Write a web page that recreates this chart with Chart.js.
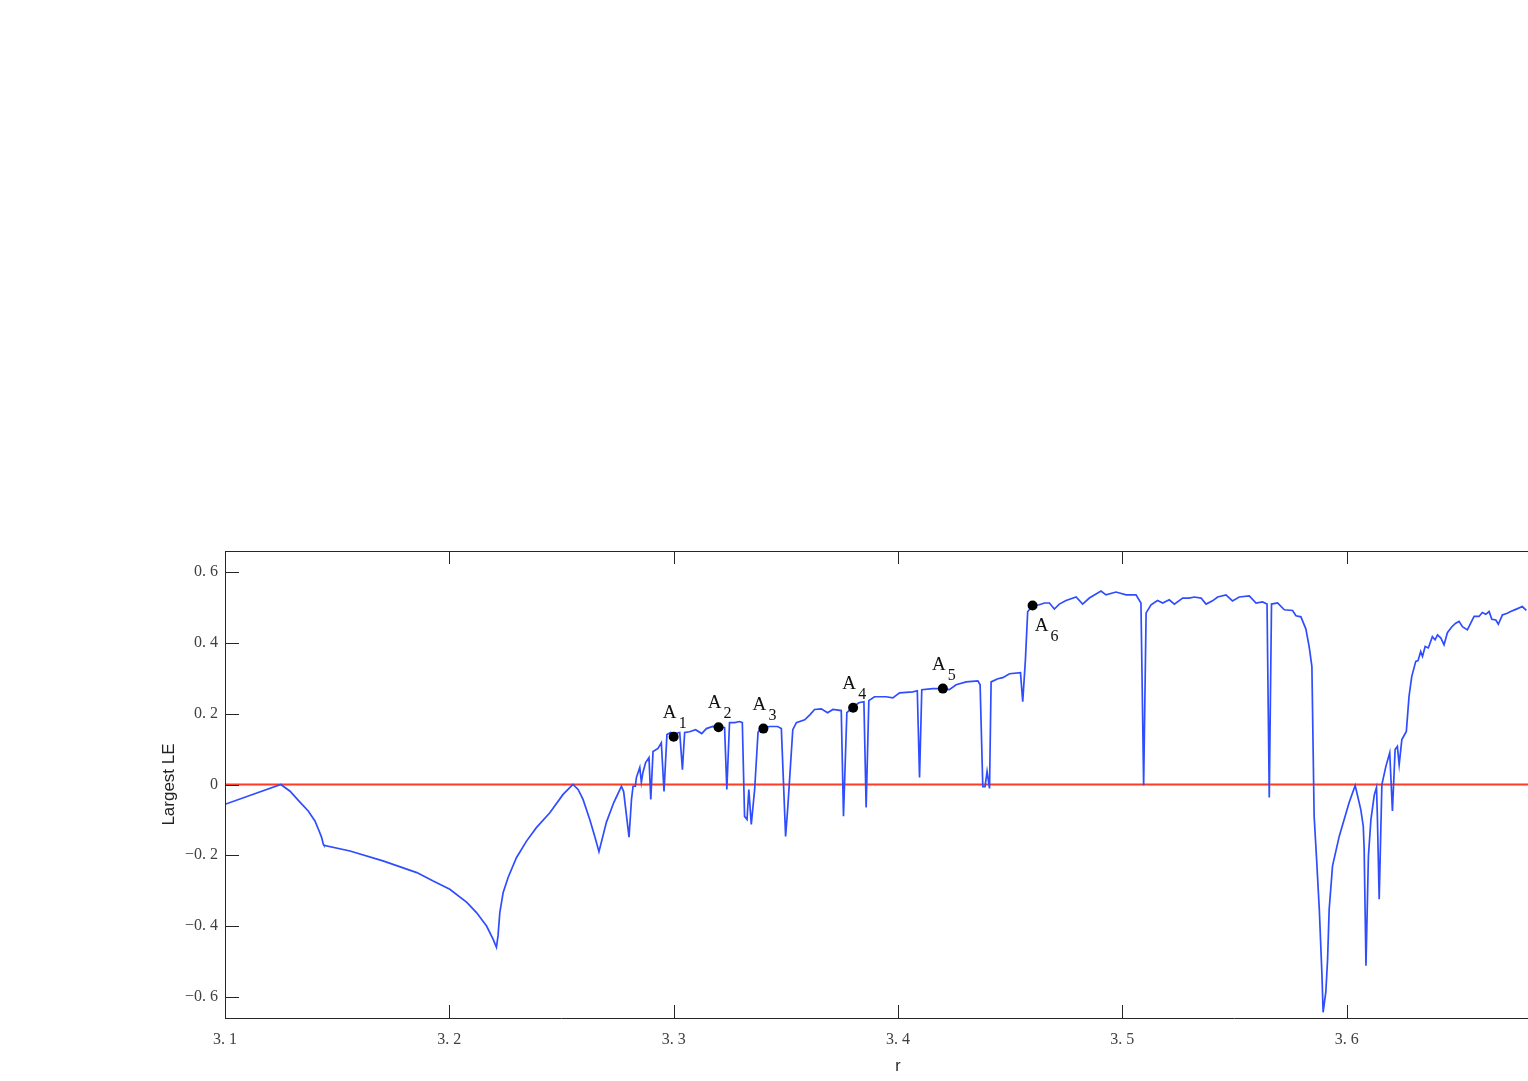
<!DOCTYPE html>
<html>
<head>
<meta charset="utf-8">
<script src="https://cdn.jsdelivr.net/npm/chart.js@4/dist/chart.umd.min.js"></script>
<style>
html,body{margin:0;padding:0;background:#fff;overflow:hidden;width:1528px;height:1081px;}
canvas{display:block;}
</style>
</head>
<body>
<canvas id="c" width="1620" height="1081"></canvas>
<script>
// ---- data ----
const rVals = [
3.1000,3.1249,3.1290,3.1334,3.1371,3.1401,3.1420,3.1431,3.1438,3.1441,
3.1557,3.1704,3.1855,3.1928,3.2002,3.2078,3.2121,3.2166,3.2195,3.2210,
3.2217,3.2225,3.2240,3.2262,3.2299,3.2344,3.2388,3.2448,3.2507,3.2551,
3.2574,3.2596,3.2626,3.2648,3.2667,3.2700,3.2733,3.2767,3.2777,3.2801,
3.2812,3.2819,3.2829,3.2834,3.2849,3.2856,3.2863,3.2875,3.2890,3.2898,
3.2908,3.2930,3.2945,3.2957,3.2970,3.2987,3.3000,3.3027,3.3039,3.3049,
3.3071,3.3098,3.3125,3.3146,3.3174,3.3196,3.3227,3.3237,3.3249,3.3272,
3.3294,3.3306,3.3316,3.3327,3.3335,3.3346,3.3361,3.3376,3.3391,3.3400,
3.3428,3.3463,3.3480,3.3499,3.3509,3.3531,3.3547,3.3584,3.3607,3.3628,
3.3658,3.3686,3.3710,3.3747,3.3757,3.3772,3.3800,3.3825,3.3848,3.3858,
3.3870,3.3895,3.3947,3.3977,3.4007,3.4066,3.4086,3.4096,3.4106,3.4155,
3.4200,3.4229,3.4259,3.4304,3.4356,3.4366,3.4378,3.4388,3.4397,3.4408,
3.4415,3.4445,3.4467,3.4497,3.4546,3.4556,3.4568,3.4578,3.4600,3.4630,
3.4653,3.4675,3.4697,3.4719,3.4749,3.4794,3.4823,3.4853,3.4905,3.4927,
3.4972,3.5017,3.5061,3.5083,3.5095,3.5106,3.5128,3.5157,3.5180,3.5209,
3.5232,3.5269,3.5298,3.5321,3.5351,3.5373,3.5402,3.5425,3.5462,3.5491,
3.5521,3.5566,3.5596,3.5625,3.5645,3.5655,3.5665,3.5692,3.5722,3.5759,
3.5774,3.5796,3.5818,3.5833,3.5845,3.5855,3.5866,3.5878,3.5890,3.5895,
3.5907,3.5915,3.5922,3.5937,3.5967,3.6011,3.6038,3.6063,3.6074,3.6078,
3.6086,3.6097,3.6108,3.6123,3.6133,3.6137,3.6145,3.6157,3.6175,3.6192,
3.6204,3.6216,3.6226,3.6234,3.6246,3.6266,3.6278,3.6290,3.6308,3.6318,
3.6330,3.6338,3.6350,3.6364,3.6382,3.6394,3.6405,3.6420,3.6434,3.6449,
3.6469,3.6486,3.6501,3.6516,3.6538,3.6553,3.6568,3.6590,3.6605,3.6620,
3.6635,3.6647,3.6665,3.6676,3.6694,3.6716,3.6731,3.6754,3.6783,3.6801
];
const leVals = [
-0.056,0.000,-0.019,-0.050,-0.075,-0.103,-0.132,-0.150,-0.169,-0.172,
-0.188,-0.216,-0.249,-0.273,-0.296,-0.333,-0.362,-0.400,-0.437,-0.460,
-0.428,-0.362,-0.305,-0.263,-0.207,-0.160,-0.122,-0.080,-0.028,0.000,
-0.014,-0.042,-0.099,-0.146,-0.190,-0.107,-0.051,-0.005,-0.020,-0.149,
-0.042,-0.005,-0.005,0.020,0.048,0.006,0.034,0.062,0.076,-0.042,
0.093,0.102,0.118,-0.020,0.141,0.147,0.143,0.147,0.042,0.147,
0.149,0.155,0.144,0.158,0.164,0.162,0.161,-0.014,0.175,0.175,
0.178,0.175,-0.090,-0.099,-0.014,-0.113,-0.014,0.147,0.164,0.160,
0.164,0.164,0.158,-0.147,-0.062,0.155,0.175,0.183,0.197,0.212,
0.214,0.203,0.212,0.209,-0.090,0.203,0.219,0.231,0.234,-0.065,
0.237,0.248,0.248,0.245,0.259,0.262,0.265,0.020,0.268,0.271,
0.271,0.268,0.282,0.290,0.293,0.282,-0.006,-0.006,0.037,-0.011,
0.290,0.299,0.302,0.313,0.316,0.234,0.353,0.488,0.506,0.508,
0.513,0.513,0.496,0.510,0.520,0.530,0.510,0.527,0.547,0.536,
0.544,0.536,0.536,0.513,-0.003,0.485,0.508,0.520,0.513,0.522,
0.510,0.527,0.527,0.530,0.527,0.510,0.519,0.530,0.536,0.519,
0.530,0.533,0.513,0.516,0.510,-0.037,0.510,0.513,0.494,0.492,
0.477,0.474,0.440,0.389,0.333,-0.090,-0.212,-0.353,-0.541,-0.644,
-0.587,-0.494,-0.353,-0.230,-0.146,-0.051,-0.003,-0.071,-0.118,-0.183,
-0.512,-0.202,-0.100,-0.030,-0.008,-0.093,-0.324,0.000,0.052,0.090,
-0.075,0.099,0.108,0.056,0.127,0.150,0.249,0.305,0.348,0.350,
0.376,0.362,0.390,0.386,0.418,0.409,0.423,0.414,0.395,0.429,
0.446,0.456,0.461,0.446,0.437,0.456,0.475,0.475,0.486,0.481,
0.489,0.467,0.465,0.453,0.479,0.484,0.489,0.495,0.503,0.492
];
const markerR = [3.30, 3.32, 3.34, 3.38, 3.42, 3.46];
const markerLE = [0.135, 0.162, 0.158, 0.217, 0.271, 0.506];
const markerLabels = ['1', '2', '3', '4', '5', '6'];
const zeroR = [3.1, 3.7];
const zeroLE = [0, 0];
const xTicks = [3.1, 3.2, 3.3, 3.4, 3.5, 3.6, 3.7];
const yTicks = [-0.6, -0.4, -0.2, 0, 0.2, 0.4, 0.6];
const xRange = [3.1, 3.7];
const yRange = [-0.66, 0.66];

// ---- styles ----
const AXIS_COLOR = '#262626';
const SERIF = "'Liberation Serif', 'DejaVu Serif', serif";
const SANS = "'Liberation Sans', 'Noto Sans', sans-serif";
const TICK_FONT = {family: SERIF, size: 16};
const fmt = v => {
  if (Math.abs(v) < 1e-9) return '0';
  return (v < 0 ? '\u2212' : '') + Math.abs(v).toFixed(1).replace('.', '. ');
};

const boxTicksPlugin = {
  id: 'boxTicks',
  afterDraw(chart) {
    const ctx = chart.ctx;
    const a = chart.chartArea;
    const xs = chart.scales.x, ys = chart.scales.y;
    ctx.save();
    ctx.strokeStyle = AXIS_COLOR;
    ctx.lineWidth = 1;
    ctx.beginPath();
    ctx.moveTo(a.left + 0.5, a.top + 0.5);
    ctx.lineTo(a.right + 0.5, a.top + 0.5);
    ctx.lineTo(a.right + 0.5, a.bottom + 0.5);
    ctx.moveTo(a.left + 0.5, a.top);
    ctx.lineTo(a.left + 0.5, a.bottom);
    ctx.moveTo(a.left, a.bottom + 0.5);
    ctx.lineTo(a.right, a.bottom + 0.5);
    xTicks.forEach(v => {
      const px = Math.round(xs.getPixelForValue(v)) + 0.5;
      ctx.moveTo(px, a.bottom);
      ctx.lineTo(px, a.bottom - 13);
      ctx.moveTo(px, a.top);
      ctx.lineTo(px, a.top + 13);
    });
    yTicks.forEach(v => {
      const py = Math.round(ys.getPixelForValue(v)) + 0.5;
      ctx.moveTo(a.left, py);
      ctx.lineTo(a.left + 14, py);
      ctx.moveTo(a.right, py);
      ctx.lineTo(a.right - 14, py);
    });
    ctx.stroke();

    const meta = chart.getDatasetMeta(2);
    ctx.fillStyle = '#111';
    ctx.textAlign = 'center';
    ctx.textBaseline = 'middle';
    meta.data.forEach((pt, i) => {
      const below = i === markerLabels.length - 1;
      const ax = below ? 9 : -4, ay = below ? 21 : -24;
      const dx = below ? 22 : 9, dy = below ? 31 : -13;
      ctx.font = "19px " + SERIF;
      ctx.fillText('A', pt.x + ax, pt.y + ay);
      ctx.font = "16px " + SERIF;
      ctx.fillText(markerLabels[i], pt.x + dx, pt.y + dy);
    });
    ctx.restore();
  }
};

new Chart(document.getElementById('c'), {
  type: 'line',
  data: {
    datasets: [
      {
        data: zeroR.map((r, i) => ({x: r, y: zeroLE[i]})),
        borderColor: '#ff3b24', borderWidth: 2, pointRadius: 0, order: 2
      },
      {
        data: rVals.map((r, i) => ({x: r, y: leVals[i]})),
        borderColor: '#2f4dff', borderWidth: 1.7, pointRadius: 0, tension: 0, order: 1
      },
      {
        data: markerR.map((r, i) => ({x: r, y: markerLE[i]})),
        showLine: false, pointRadius: 5, pointBackgroundColor: '#000',
        pointBorderColor: '#000', pointBorderWidth: 0, order: 0
      }
    ]
  },
  options: {
    responsive: false,
    animation: false,
    devicePixelRatio: 1,
    layout: {autoPadding: false, padding: {top: 551, right: 49, bottom: 0, left: 0}},
    plugins: {legend: {display: false}, tooltip: {enabled: false}},
    scales: {
      x: {
        type: 'linear', min: xRange[0], max: xRange[1],
        afterBuildTicks: s => { s.ticks = xTicks.map(v => ({value: v})); },
        afterFit: s => { s.height = 63; s.paddingLeft = 0; s.paddingRight = 0; },
        grid: {display: false, drawTicks: false},
        border: {display: false},
        ticks: {color: '#404040', font: TICK_FONT, padding: 12, maxRotation: 0,
                callback: v => fmt(v)},
        title: {display: true, text: 'r', color: '#222', padding: {top: 4, bottom: 5},
                font: {family: SANS, size: 16}}
      },
      y: {
        type: 'linear', min: yRange[0], max: yRange[1],
        afterBuildTicks: s => { s.ticks = yTicks.map(v => ({value: v})); },
        afterFit: s => { s.width = 225; },
        grid: {display: false, drawTicks: false},
        border: {display: false},
        ticks: {color: '#404040', font: TICK_FONT, padding: 7,
                callback: v => fmt(v)},
        title: {display: true, text: 'Largest LE', color: '#222', padding: {top: 159, bottom: 0},
                font: {family: SANS, size: 17}}
      }
    }
  },
  plugins: [boxTicksPlugin]
});
</script>
</body>
</html>
